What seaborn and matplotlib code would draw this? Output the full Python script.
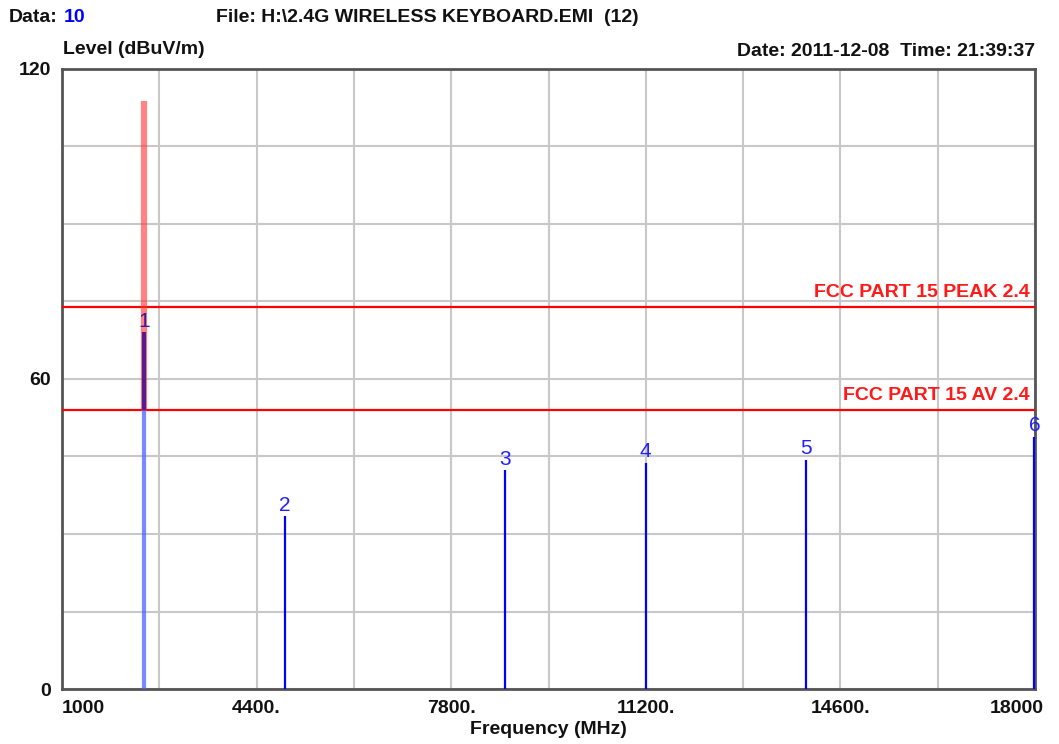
import matplotlib
matplotlib.use("Agg")
import matplotlib.pyplot as plt
import numpy as np
import pandas as pd
import seaborn as sns

# Spectrum markers (MHz, dBuV/m)
marker_ids = ["1", "2", "3", "4", "5", "6"]
marker_freq = [2440, 4890, 8740, 11200, 14000, 17990]
marker_level = [69.0, 33.4, 42.4, 43.8, 44.4, 48.8]

# Peak trace spike at the carrier
spike_freq = 2440
spike_low = 54.0
spike_high = 113.9

# Limit lines
limit_names = ["FCC PART 15 PEAK 2.4", "FCC PART 15 AV 2.4"]
limit_levels = [74.0, 54.0]

x_ticks = [1000, 2700, 4400, 6100, 7800, 9500, 11200, 12900, 14600, 16300, 18000]
x_tick_labels = ["1000", "", "4400.", "", "7800.", "", "11200.", "", "14600.", "", "18000"]
y_ticks = [0, 15, 30, 45, 60, 75, 90, 105, 120]
y_tick_labels = ["0", "", "", "", "60", "", "", "", "120"]

sns.set_theme(style="white")
plt.rcParams["font.family"] = ["Liberation Sans", "DejaVu Sans"]

W, H = 1059, 744
fig = plt.figure(figsize=(W / 100, H / 100), dpi=100)
ax = fig.add_axes([62 / W, 1 - 689 / H, (1035 - 62) / W, (689 - 69) / H])

ax.set_xlim(1000, 18000)
ax.set_ylim(0, 120)

# grid
ax.set_xticks(x_ticks)
ax.set_yticks(y_ticks)
ax.grid(True, color="#c8c8c8", linewidth=1.5)
ax.set_axisbelow(True)
ax.tick_params(length=0, labelsize=14)

# the last x label sits just inside the right edge, drawn separately below
ax.set_xticklabels(x_tick_labels[:-1] + [""], fontweight="bold", color="#111111")
ax.set_yticklabels(y_tick_labels, fontweight="bold", color="#111111")
ax.get_xticklabels()[0].set_ha("left")
ax.tick_params(axis="x", pad=8)
ax.tick_params(axis="y", pad=8)
ax.annotate(x_tick_labels[-1], xy=(x_ticks[-1], 0), xycoords="data",
            xytext=(-13, -8), textcoords="offset points", ha="center", va="top",
            fontsize=14, fontweight="bold", color="#111111", annotation_clip=False)

for s in ax.spines.values():
    s.set_color("#555555")
    s.set_linewidth(2)
    s.set_visible(True)

# limit lines
for name, lvl in zip(limit_names, limit_levels):
    df = pd.DataFrame({"f": [1000, 18000], "lvl": [lvl, lvl]})
    sns.lineplot(data=df, x="f", y="lvl", ax=ax, color="#ff0000", linewidth=1.6, zorder=3)
    ax.annotate(name, xy=(1.0, lvl), xycoords=("axes fraction", "data"),
                xytext=(-4, 4), textcoords="offset points", ha="right", va="bottom",
                color="#ff1a1a", fontsize=14, fontweight="bold")

# peak spike (translucent red) with marker 1 stem under and over it
ax.vlines(spike_freq, spike_low, spike_high, color="#ff3030", alpha=0.6, linewidth=4.5, zorder=4)
ax.vlines(marker_freq[0], 0, spike_low, color="#5060ff", alpha=0.75, linewidth=3, zorder=5)
ax.vlines(marker_freq[0], spike_low, marker_level[0], color="#5a1a8c", linewidth=3, zorder=5)

# remaining marker stems
ax.vlines(marker_freq[1:], 0, marker_level[1:], color="#0000ff", linewidth=1.6, zorder=5)

for mid, f, lvl in zip(marker_ids, marker_freq, marker_level):
    col = "#3a1a9a" if mid == "1" else "#2020ff"
    ax.annotate(mid, xy=(f, lvl), xytext=(0, 1), textcoords="offset points",
                ha="center", va="bottom", color=col, fontsize=15, zorder=6)

ax.set_xlabel("")
ax.set_ylabel("")

# header and axis titles
def px(x, y):
    return x / W, 1 - y / H

fig.text(*px(9, 18), "Data:", fontsize=14, fontweight="bold", color="#111111", va="center")
fig.text(*px(64, 18), "10", fontsize=14, fontweight="bold", color="#0000ff", va="center")
fig.text(*px(216, 18), "File: H:\\2.4G WIRELESS KEYBOARD.EMI  (12)", fontsize=14,
         fontweight="bold", color="#111111", va="center")
fig.text(*px(63, 50), "Level (dBuV/m)", fontsize=14, fontweight="bold", color="#111111", va="center")
fig.text(*px(1035, 51), "Date: 2011-12-08  Time: 21:39:37", fontsize=14, fontweight="bold",
         color="#111111", va="center", ha="right")
fig.text(*px(548, 729), "Frequency (MHz)", fontsize=14, fontweight="bold", color="#111111",
         va="center", ha="center")

fig.savefig("out.png", dpi=100, facecolor="white")
